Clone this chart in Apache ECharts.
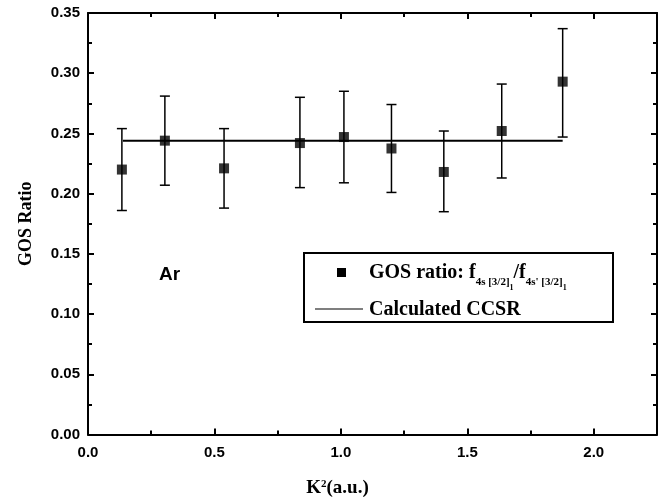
<!DOCTYPE html>
<html lang="en">
<head>
    <meta charset="UTF-8">
    <title>GOS ratio</title>
    <script src="https://cdn.jsdelivr.net/npm/echarts@6/dist/echarts.min.js"></script>
    <style>
        html, body { margin: 0; padding: 0; background: #fff; }
        #main { width: 661px; height: 503px; }
    </style>
</head>
<body>
<div id="main"></div>
<script type="text/javascript">
    // data
    var k2 = [0.134, 0.304, 0.538, 0.838, 1.012, 1.200, 1.407, 1.636, 1.877];
    var ratio = [0.220, 0.244, 0.221, 0.242, 0.247, 0.2375, 0.218, 0.252, 0.293];
    var errLow = [0.186, 0.207, 0.188, 0.205, 0.209, 0.201, 0.185, 0.213, 0.247];
    var errHigh = [0.254, 0.281, 0.254, 0.280, 0.285, 0.274, 0.252, 0.291, 0.337];
    var ccsrX = [0.138, 1.877];
    var ccsrY = [0.244, 0.244];

    var myChart = echarts.init(document.getElementById('main'));

    var scatterData = [];
    var errData = [];
    for (var i = 0; i < k2.length; i++) {
        scatterData.push([k2[i], ratio[i]]);
        errData.push([k2[i], errLow[i], errHigh[i]]);
    }
    var lineData = [];
    for (var j = 0; j < ccsrX.length; j++) {
        lineData.push([ccsrX[j], ccsrY[j]]);
    }

    var tickFont = { fontFamily: 'Liberation Sans', fontWeight: 'bold', fontSize: 15, color: '#000' };
    var nameFont = { fontFamily: 'Liberation Serif', fontWeight: 'bold', fontSize: 18, color: '#000' };

    function frameAxis(pos, min, max, interval) {
        return {
            type: 'value',
            position: pos,
            min: min,
            max: max,
            interval: interval,
            axisLine: { show: true, onZero: false, lineStyle: { color: '#000', width: 2 } },
            axisTick: { show: true, inside: true, length: 6, lineStyle: { color: '#000', width: 2 } },
            minorTick: { show: true, splitNumber: 2, length: 4, lineStyle: { color: '#000', width: 2 } },
            axisLabel: { show: false },
            splitLine: { show: false }
        };
    }

    var xMain = frameAxis('bottom', 0, 2.25, 0.5);
    xMain.axisLabel = Object.assign({ show: true, margin: 11, showMaxLabel: false,
        formatter: function (v) { return v.toFixed(1); } }, tickFont);
    xMain.name = '{k|K}{s|2}{k|(a.u.)}';
    xMain.nameLocation = 'middle';
    xMain.nameGap = 44;
    xMain.nameTextStyle = Object.assign({ padding: [0, 70, 0, 0], rich: {
        k: { fontFamily: 'Liberation Serif', fontWeight: 'bold', fontSize: 19, color: '#000' },
        s: { fontFamily: 'Liberation Serif', fontWeight: 'bold', fontSize: 11, color: '#000', padding: [0, 0, 9, 0] }
    } }, nameFont);

    var yMain = frameAxis('left', 0, 0.35, 0.05);
    yMain.axisLabel = Object.assign({ show: true, margin: 8,
        formatter: function (v) { return v.toFixed(2); } }, tickFont);
    yMain.name = 'GOS Ratio';
    yMain.nameLocation = 'middle';
    yMain.nameGap = 53;
    yMain.nameTextStyle = nameFont;

    var option = {
        backgroundColor: '#fff',
        animation: false,
        grid: { left: 88, right: 4, top: 13, bottom: 67 },
        xAxis: [xMain, frameAxis('top', 0, 2.25, 0.5)],
        yAxis: [yMain, frameAxis('right', 0, 0.35, 0.05)],
        series: [
            {
                name: 'Calculated CCSR',
                type: 'line',
                data: lineData,
                symbol: 'none',
                lineStyle: { color: '#000', width: 2 },
                z: 2
            },
            {
                name: 'error',
                type: 'custom',
                data: errData,
                renderItem: function (params, api) {
                    var x = api.value(0);
                    var lo = api.coord([x, api.value(1)]);
                    var hi = api.coord([x, api.value(2)]);
                    var st = { stroke: '#000', lineWidth: 1.5 };
                    return {
                        type: 'group',
                        children: [
                            { type: 'line', shape: { x1: lo[0], y1: lo[1], x2: hi[0], y2: hi[1] }, style: st },
                            { type: 'line', shape: { x1: lo[0] - 5, y1: lo[1], x2: lo[0] + 5, y2: lo[1] }, style: st },
                            { type: 'line', shape: { x1: hi[0] - 5, y1: hi[1], x2: hi[0] + 5, y2: hi[1] }, style: st }
                        ]
                    };
                },
                z: 3
            },
            {
                name: 'GOS ratio',
                type: 'scatter',
                data: scatterData,
                symbol: 'rect',
                symbolSize: 10,
                itemStyle: { color: '#000' },
                z: 4
            }
        ],
        graphic: [
            {
                type: 'text', x: 159, y: 265,
                style: { text: 'Ar', fontFamily: 'Liberation Sans', fontWeight: 'bold', fontSize: 19, fill: '#000' }
            },
            {
                type: 'group', x: 304, y: 253,
                children: [
                    { type: 'rect', shape: { x: 0, y: 0, width: 309, height: 69 },
                      style: { fill: '#fff', stroke: '#000', lineWidth: 2 } },
                    { type: 'rect', shape: { x: 33, y: 15, width: 9, height: 9 }, style: { fill: '#000' } },
                    { type: 'line', shape: { x1: 11, y1: 56, x2: 59, y2: 56 }, style: { stroke: '#000', lineWidth: 1.2 } },
                    {
                        type: 'text', x: 65, y: 8,
                        style: {
                            text: '{a|GOS ratio: f}{b|4s [3/2]}{c|1}{a|/f}{b|4s\' [3/2]}{c|1}',
                            rich: {
                                a: { fontFamily: 'Liberation Serif', fontWeight: 'bold', fontSize: 20, lineHeight: 24, fill: '#000' },
                                b: { fontFamily: 'Liberation Serif', fontWeight: 'bold', fontSize: 11, lineHeight: 13, padding: [18, 0, 0, 0], fill: '#000' },
                                c: { fontFamily: 'Liberation Serif', fontWeight: 'bold', fontSize: 8, lineHeight: 9, padding: [29, 0, 0, 0], fill: '#000' }
                            }
                        }
                    },
                    {
                        type: 'text', x: 65, y: 57,
                        style: { text: 'Calculated CCSR', verticalAlign: 'middle', fontFamily: 'Liberation Serif', fontWeight: 'bold', fontSize: 20, fill: '#000' }
                    }
                ]
            }
        ]
    };

    myChart.setOption(option);
</script>
</body>
</html>
